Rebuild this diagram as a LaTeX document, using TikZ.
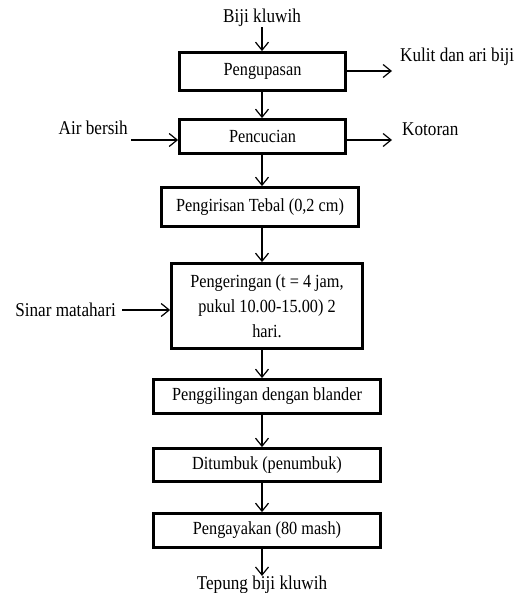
\documentclass[tikz,border=0pt]{standalone}
\usepackage{fontspec}
\setmainfont{Liberation Serif}[FakeStretch=0.88]
\usetikzlibrary{arrows.meta}
\begin{document}
\begin{tikzpicture}[x=1pt,y=-1pt,
  box/.style={draw, line width=2.8pt, minimum height=34pt, inner sep=2pt,
    font=\fontsize{18.5}{25}\selectfont, align=center},
  lbl/.style={inner sep=0pt, font=\fontsize{19.5}{22}\selectfont},
  arr/.style={line width=1.2pt, -{Straight Barb[length=8pt,width=13pt,line width=1.2pt]}}]
\useasboundingbox (0,0) rectangle (521,593);
\node[lbl] (start) at (262,18) {Biji kluwih};
\node[box, minimum width=166pt, minimum height=38pt] (b1) at (262.5,71.5) {Pengupasan};
\node[box, minimum width=166pt, minimum height=34pt] (b2) at (262.5,136.5) {Pencucian};
\node[box, minimum width=197pt, minimum height=39pt] (b3) at (260,207) {Pengirisan Tebal (0,2 cm)};
\node[box, minimum width=191pt, minimum height=85pt] (b4) at (267,306) {Pengeringan (t = 4 jam,\\ pukul 10.00-15.00) 2\\ hari.};
\node[box, minimum width=227pt, minimum height=34pt] (b5) at (267,396.5) {\raisebox{-2.5pt}{Penggilingan dengan blander}};
\node[box, minimum width=227pt, minimum height=33pt] (b6) at (267,465) {\raisebox{-2.5pt}{Ditumbuk (penumbuk)}};
\node[box, minimum width=227pt, minimum height=34pt] (b7) at (267,530.5) {\raisebox{-2.5pt}{Pengayakan (80 mash)}};
\node[lbl] (end) at (262,585) {Tepung biji kluwih};
% side labels
\node[lbl, anchor=west] (kulit) at (400,57) {Kulit dan ari biji};
\node[lbl, anchor=east] (air) at (128,128) {Air bersih};
\node[lbl, anchor=west] (kotoran) at (402,129) {Kotoran};
\node[lbl, anchor=east] (sinar) at (116,310) {Sinar matahari};
\coordinate (k1) at (392,71);
\coordinate (a1) at (131,140);
\coordinate (k2) at (392,140);
\coordinate (s1) at (122,310);
% main flow
\draw[arr] (start.south) -- (b1.north -| start);
\draw[arr] (b1.south -| start) -- (b2.north -| start);
\draw[arr] (b2.south -| start) -- (b3.north -| start);
\draw[arr] (b3.south -| start) -- (b4.north -| start);
\draw[arr] (b4.south -| start) -- (b5.north -| start);
\draw[arr] (b5.south -| start) -- (b6.north -| start);
\draw[arr] (b6.south -| start) -- (b7.north -| start);
\draw[arr] (b7.south -| start) -- (end.north);
% side flows
\draw[arr] (b1.east |- k1) -- (k1);
\draw[arr] (a1) -- (b2.west |- a1);
\draw[arr] (b2.east |- k2) -- (k2);
\draw[arr] (s1) -- (b4.west |- s1);
\end{tikzpicture}
\end{document}
